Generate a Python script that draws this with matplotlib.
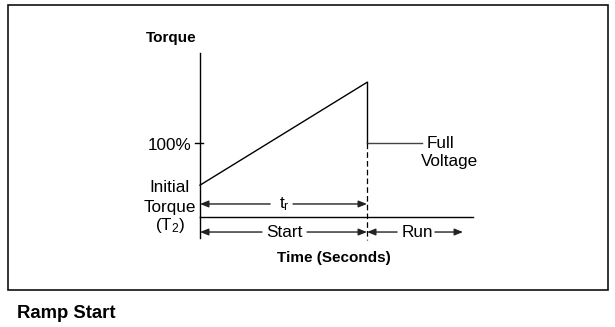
import matplotlib
matplotlib.use("Agg")
import matplotlib.pyplot as plt
from matplotlib.patches import Rectangle

plt.rcParams['font.family'] = ['Liberation Sans', 'DejaVu Sans']
plt.rcParams['mathtext.fontset'] = 'custom'
plt.rcParams['mathtext.rm'] = 'Liberation Sans'
plt.rcParams['mathtext.it'] = 'Liberation Sans:italic'

# ---- data (time in units of ramp time t_r, torque in % of full-load) ----
ramp_time = [0.0, 1.0]
ramp_torque = [43, 182]
drop_time = [1.0, 1.0]
drop_torque = [182, 100]
full_time = [1.0, 1.33]
full_torque = [100, 100]
axis_time_max = 1.635
axis_torque_max = 222
tick_label = "100%"
tick_value = 100
run_end = 1.575

fig = plt.figure(figsize=(6.15, 3.27), dpi=100)
ax = fig.add_axes([0, 0, 1, 1])
ax.set_xlim(-200 / 167, 415 / 167)
ax.set_ylim(-110 / 74 * 100, 217 / 74 * 100)
ax.axis('off')

# border box
fig.patches.append(Rectangle((8 / 615, 37 / 327), 600 / 615, 285 / 327,
                             transform=fig.transFigure, fill=False,
                             edgecolor='#111111', lw=1.2))

k = 'black'
# axes
ax.plot([0, 0], [0, axis_torque_max], color=k, lw=1.0)
ax.plot([0, axis_time_max], [0, 0], color=k, lw=1.0)
ax.plot([-0.03, 0.018], [tick_value, tick_value], color=k, lw=1.0)
ax.plot([0, 0], [0, -29], color=k, lw=1.0)

# torque curve
ax.plot(ramp_time, ramp_torque, color=k, lw=1.0)
ax.plot(drop_time, drop_torque, color=k, lw=1.0)
ax.plot(full_time, full_torque, color='#444444', lw=1.0)
ax.plot([1.0, 1.0], [100, -31], color=k, lw=0.9, linestyle=(0, (4.5, 2.5)))

fs = 12.3
ax.text(-0.174, 236.5, "Torque", fontsize=11, fontweight='bold',
        ha='center', va='baseline')
ax.text(-0.048, 97, tick_label, fontsize=fs, ha='right', va='center')
ax.text(-0.18, 40.5, "Initial", fontsize=fs, ha='center', va='center')
ax.text(-0.18, 13.5, "Torque", fontsize=fs, ha='center', va='center')
ax.text(-0.18, -12, r"(T$_\mathregular{2}$)", fontsize=fs, ha='center', va='center')
ax.text(1.36, 99, "Full", fontsize=fs, ha='left', va='center')
ax.text(1.323, 75, "Voltage", fontsize=fs, ha='left', va='center')
ax.text(0.80, -60.8, "Time (Seconds)", fontsize=11, fontweight='bold',
        ha='center', va='baseline')
ax.text(-1.096, -136.5, "Ramp Start", fontsize=13.3, fontweight='bold',
        ha='left', va='baseline')

aprops = dict(arrowstyle='-|>,head_length=0.5,head_width=0.2', lw=1.0,
              color='#222222', shrinkA=0, shrinkB=0)

def arrow(x_tail, x_tip, y):
    ax.annotate('', xy=(x_tip, y), xytext=(x_tail, y), arrowprops=aprops)

# t_r arrow
arrow(0.42, 0.0, 17.6)
arrow(0.557, 1.0, 17.6)
ax.text(0.503, 17.6, r"t$_\mathregular{r}$", fontsize=fs, ha='center', va='center')

# Start arrow
arrow(0.371, 0.0, -20.3)
arrow(0.641, 1.0, -20.3)
ax.text(0.506, -20.3, "Start", fontsize=fs, ha='center', va='center')

# Run arrow
arrow(1.18, 1.0, -20.3)
arrow(1.407, run_end, -20.3)
ax.text(1.30, -20.3, "Run", fontsize=fs, ha='center', va='center')

fig.savefig("out.png", dpi=100)
